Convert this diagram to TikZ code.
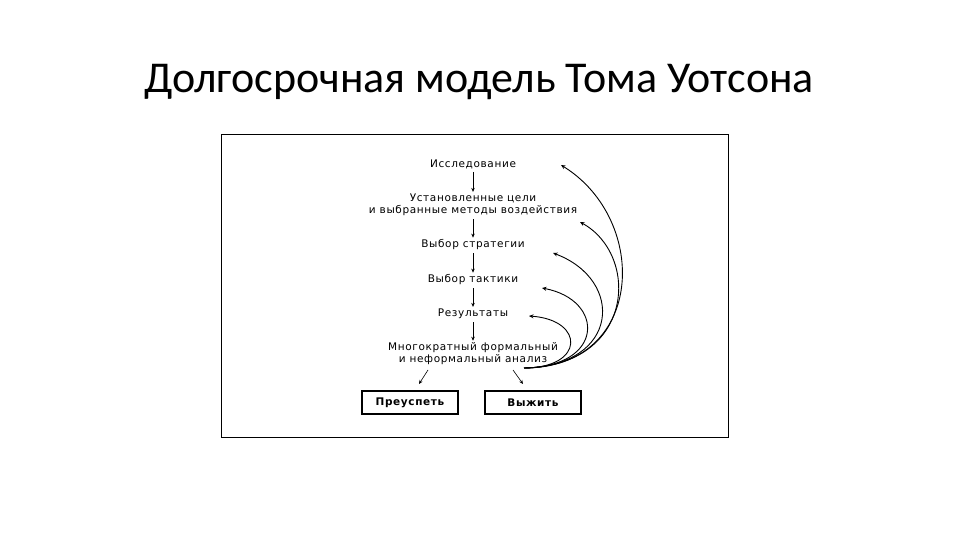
\documentclass[tikz,border=0pt]{standalone}
\usepackage{fontspec}
\setmainfont{Carlito}
\newfontfamily\djvfont[LetterSpace=6]{DejaVu Sans}
\usetikzlibrary{arrows.meta}
\begin{document}
\begin{tikzpicture}[x=1pt,y=-1pt,
  lbl/.style={font=\djvfont\fontsize{10.5}{12}\selectfont,inner sep=0pt,align=center},
  arr/.style={-{Stealth[length=4pt,width=3.5pt]},line width=0.6pt,shorten <=3pt,shorten >=2pt},
  fb/.style={-{Stealth[length=4.5pt,width=4pt]},line width=0.9pt},
  bx/.style={draw,line width=1.2pt,minimum width=96pt,minimum height=23pt,font=\djvfont\fontsize{10.5}{12}\selectfont\bfseries}]
\useasboundingbox (0,0) rectangle (960,540);
\node[font=\fontsize{44}{48}\selectfont] (title) at (479,82) {Долгосрочная модель Тома Уотсона};
\node[draw,line width=1pt,minimum width=507pt,minimum height=302pt,inner sep=0pt] (frame) at (474.5,286) {};
\node[lbl] (n1) at (473,164) {Исследование};
\node[lbl] (n2) at (473,205) {Установленные цели\\и выбранные методы воздействия};
\node[lbl] (n3) at (473,245) {Выбор стратегии};
\node[lbl] (n4) at (473,280) {Выбор тактики};
\node[lbl] (n5) at (473,314) {Результаты};
\node[lbl] (n6) at (473,354) {Многократный формальный\\и неформальный анализ};
\node[bx] (b1) at (410,402.5) {Преуспеть};
\node[bx] (b2) at (533,402.5) {Выжить};
\draw[arr] (n1) -- (n2);
\draw[arr] (n2) -- (n3);
\draw[arr] (n3) -- (n4);
\draw[arr] (n4) -- (n5);
\draw[arr] (n5) -- (n6);
\coordinate (s1) at (428,370); \coordinate (s2) at (513,370);
\coordinate (e1) at (419,384); \coordinate (e2) at (523,384);
\coordinate (o) at (524,368);
\coordinate (t1) at (561,165); \coordinate (t2) at (580,222); \coordinate (t3) at (553,253);
\coordinate (t4) at (542,288); \coordinate (t5) at (529,316);
\draw[arr,shorten <=0pt,shorten >=0pt] (s1) -- (e1);
\draw[arr,shorten <=0pt,shorten >=0pt] (s2) -- (e2);
\draw[fb] (o) .. controls (645,368) and (650,220) .. (t1);
\draw[fb] (o) .. controls (635,366) and (640,255) .. (t2);
\draw[fb] (o) .. controls (620,366) and (625,280) .. (t3);
\draw[fb] (o) .. controls (605,367) and (605,300) .. (t4);
\draw[fb] (o) .. controls (585,368) and (585,320) .. (t5);
\end{tikzpicture}
\end{document}
